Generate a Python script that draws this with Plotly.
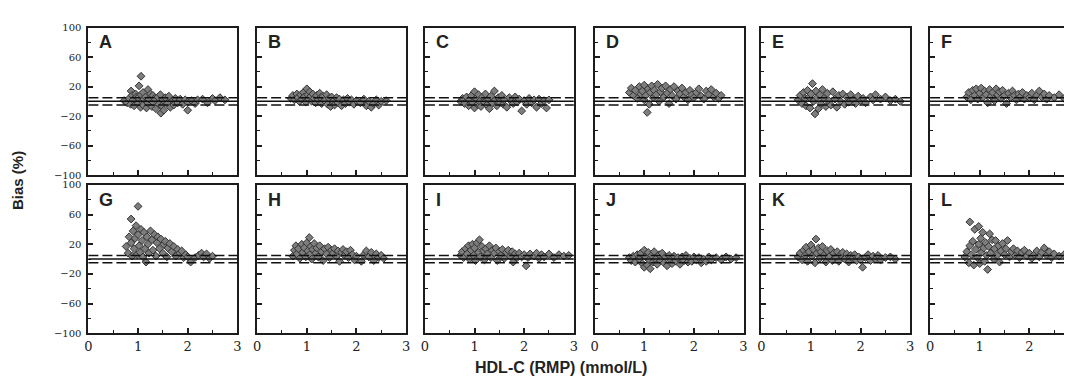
import plotly.graph_objects as go

# ---- data: (HDL-C by RMP [mmol/L], bias [%]) ----
A_PTS = [(0.72,1),(0.78,-2),(0.82,4),(0.85,-4),(0.86,14),(0.88,8),(0.9,2),(0.92,-6),(0.95,10),(0.97,6),(1.0,-3),(1.0,5),(1.02,21),(1.05,-8),(1.06,34),(1.06,9),(1.08,0),(1.1,12),(1.1,-5),(1.12,3),(1.15,6),(1.17,-9),(1.2,16),(1.2,-2),(1.22,3),(1.25,10),(1.28,-7),(1.3,8),(1.3,-1),(1.33,4),(1.36,-10),(1.4,6),(1.42,-4),(1.45,9),(1.46,-16),(1.48,-6),(1.5,2),(1.52,-12),(1.55,5),(1.6,-3),(1.62,7),(1.65,-8),(1.7,1),(1.72,-5),(1.75,4),(1.8,-2),(1.85,3),(1.9,-4),(1.95,2),(2.0,-1),(2.0,-12),(2.08,1),(2.15,-3),(2.2,2),(2.3,3),(2.4,-2),(2.5,4),(2.55,1),(2.65,5),(2.75,2)]
B_PTS = [(0.68,4),(0.72,8),(0.75,2),(0.8,10),(0.82,5),(0.85,0),(0.88,9),(0.9,3),(0.93,12),(0.95,6),(0.98,-1),(1.0,17),(1.02,9),(1.04,3),(1.06,13),(1.08,7),(1.1,0),(1.12,10),(1.15,4),(1.18,-2),(1.2,8),(1.23,2),(1.26,11),(1.28,5),(1.3,-3),(1.33,7),(1.36,1),(1.4,9),(1.42,-4),(1.45,4),(1.48,-7),(1.5,6),(1.53,0),(1.56,-5),(1.6,5),(1.63,-2),(1.66,3),(1.7,-6),(1.74,2),(1.78,-3),(1.82,4),(1.86,-1),(1.9,2),(1.95,-4),(2.0,1),(2.08,-2),(2.15,3),(2.2,-6),(2.25,0),(2.3,-8),(2.35,-3),(2.4,2),(2.45,-5),(2.5,0),(2.6,1)]
C_PTS = [(0.72,0),(0.76,4),(0.8,-3),(0.84,6),(0.88,-6),(0.9,2),(0.94,8),(0.96,-2),(1.0,13),(1.0,-9),(1.03,4),(1.06,-4),(1.08,9),(1.1,0),(1.13,-7),(1.16,6),(1.2,-1),(1.22,10),(1.25,-5),(1.28,3),(1.3,-10),(1.33,7),(1.36,-2),(1.4,14),(1.42,2),(1.45,-6),(1.48,5),(1.5,-1),(1.55,8),(1.58,-4),(1.6,2),(1.65,-8),(1.7,5),(1.74,0),(1.78,-3),(1.82,6),(1.86,-1),(1.9,3),(1.95,-13),(2.0,1),(2.05,-4),(2.1,4),(2.15,-2),(2.2,2),(2.25,-8),(2.3,3),(2.35,-3),(2.4,1),(2.45,-9),(2.5,2)]
D_PTS = [(0.7,12),(0.74,18),(0.78,8),(0.82,15),(0.86,4),(0.9,20),(0.93,10),(0.96,14),(1.0,2),(1.0,22),(1.03,8),(1.06,-15),(1.08,17),(1.1,-4),(1.12,12),(1.15,21),(1.18,5),(1.2,15),(1.24,9),(1.27,23),(1.3,0),(1.33,13),(1.36,18),(1.4,6),(1.43,21),(1.46,11),(1.5,-3),(1.53,16),(1.56,8),(1.6,20),(1.64,3),(1.68,14),(1.72,10),(1.76,18),(1.8,6),(1.84,12),(1.88,2),(1.92,15),(1.96,9),(2.0,5),(2.05,12),(2.1,17),(2.15,7),(2.2,3),(2.25,14),(2.3,9),(2.35,16),(2.4,6),(2.45,11),(2.5,4),(2.55,8)]
E_PTS = [(0.74,2),(0.78,8),(0.82,-3),(0.85,12),(0.88,4),(0.9,-6),(0.93,15),(0.96,6),(0.98,-9),(1.0,10),(1.03,24),(1.05,0),(1.08,-17),(1.1,14),(1.12,5),(1.15,-10),(1.18,9),(1.2,-3),(1.23,16),(1.26,4),(1.3,-7),(1.33,11),(1.36,1),(1.4,-5),(1.44,13),(1.48,3),(1.52,-8),(1.56,8),(1.6,0),(1.64,10),(1.68,-4),(1.72,6),(1.76,-1),(1.8,9),(1.85,2),(1.9,-3),(1.95,7),(2.0,1),(2.05,4),(2.1,-2),(2.2,6),(2.25,2),(2.3,9),(2.4,3),(2.5,6),(2.6,1),(2.7,3),(2.8,0)]
F_PTS = [(0.74,6),(0.78,12),(0.82,2),(0.86,15),(0.9,8),(0.93,17),(0.96,3),(1.0,11),(1.03,18),(1.06,5),(1.1,14),(1.13,9),(1.16,-2),(1.2,16),(1.23,7),(1.26,12),(1.3,1),(1.33,17),(1.36,9),(1.4,13),(1.43,4),(1.46,15),(1.5,8),(1.54,-3),(1.58,11),(1.62,5),(1.66,14),(1.7,8),(1.74,2),(1.78,10),(1.82,6),(1.86,12),(1.9,3),(1.95,8),(2.0,5),(2.05,11),(2.1,2),(2.15,8),(2.2,14),(2.25,6),(2.3,10),(2.35,3),(2.4,8),(2.5,5),(2.6,9),(2.7,4),(2.8,7),(2.9,5)]
G_PTS = [(0.76,17),(0.8,8),(0.82,30),(0.86,54),(0.86,22),(0.88,4),(0.9,38),(0.92,14),(0.94,28),(0.96,45),(0.98,6),(1.0,71),(1.0,33),(1.02,18),(1.04,9),(1.06,40),(1.08,25),(1.1,3),(1.12,36),(1.14,14),(1.16,-4),(1.18,30),(1.2,20),(1.22,8),(1.25,38),(1.28,26),(1.3,12),(1.33,33),(1.36,4),(1.38,22),(1.4,30),(1.43,14),(1.46,27),(1.5,8),(1.52,20),(1.55,24),(1.58,3),(1.6,15),(1.64,21),(1.68,10),(1.72,17),(1.76,4),(1.8,13),(1.84,8),(1.88,11),(1.92,2),(1.96,6),(2.0,3),(2.06,-4),(2.15,2),(2.22,5),(2.28,8),(2.32,3),(2.38,7),(2.44,1),(2.5,4)]
H_PTS = [(0.72,4),(0.75,12),(0.78,18),(0.8,7),(0.83,14),(0.86,1),(0.9,20),(0.92,9),(0.95,15),(0.98,3),(1.0,22),(1.02,11),(1.05,29),(1.06,6),(1.08,17),(1.1,0),(1.12,13),(1.15,21),(1.18,8),(1.2,15),(1.23,3),(1.26,18),(1.3,10),(1.33,-2),(1.36,14),(1.4,7),(1.43,16),(1.46,2),(1.5,12),(1.53,8),(1.56,14),(1.6,4),(1.63,11),(1.66,-3),(1.7,9),(1.73,13),(1.76,5),(1.8,10),(1.84,2),(1.88,12),(1.92,6),(1.96,-1),(2.0,4),(2.1,-3),(2.15,6),(2.2,11),(2.25,3),(2.3,9),(2.35,-2),(2.4,7),(2.45,2),(2.5,5),(2.55,1)]
I_PTS = [(0.72,5),(0.75,10),(0.78,2),(0.82,14),(0.85,7),(0.88,18),(0.9,0),(0.93,12),(0.96,20),(0.98,5),(1.0,15),(1.02,-2),(1.05,22),(1.08,9),(1.1,26),(1.12,3),(1.15,17),(1.18,11),(1.2,-1),(1.23,14),(1.26,7),(1.3,18),(1.33,2),(1.36,12),(1.4,8),(1.43,15),(1.46,-2),(1.5,10),(1.53,5),(1.56,13),(1.6,1),(1.64,9),(1.68,12),(1.72,4),(1.76,10),(1.78,-4),(1.82,7),(1.86,2),(1.9,8),(1.95,3),(2.0,6),(2.04,-9),(2.08,2),(2.12,7),(2.2,4),(2.25,8),(2.3,1),(2.35,6),(2.4,3),(2.5,7),(2.6,2),(2.7,6),(2.8,4),(2.9,5)]
J_PTS = [(0.7,2),(0.74,-2),(0.78,4),(0.82,-4),(0.86,6),(0.9,0),(0.93,8),(0.96,-6),(1.0,12),(1.0,-11),(1.03,3),(1.06,-8),(1.08,9),(1.1,-1),(1.12,-13),(1.15,5),(1.18,-4),(1.2,10),(1.23,0),(1.26,-7),(1.3,6),(1.33,-2),(1.36,8),(1.4,-5),(1.43,3),(1.46,-9),(1.5,5),(1.53,-1),(1.56,-6),(1.6,4),(1.64,-3),(1.68,2),(1.72,-7),(1.76,3),(1.8,-2),(1.84,5),(1.88,-4),(1.92,1),(1.96,-3),(2.0,3),(2.05,-1),(2.1,2),(2.15,-5),(2.2,0),(2.25,-3),(2.3,3),(2.35,-1),(2.45,2),(2.55,-1),(2.65,3),(2.75,0),(2.85,2)]
K_PTS = [(0.74,3),(0.78,8),(0.82,-1),(0.85,12),(0.88,5),(0.9,16),(0.93,-3),(0.96,10),(1.0,19),(1.02,4),(1.05,13),(1.08,-5),(1.1,27),(1.12,8),(1.15,15),(1.18,1),(1.2,10),(1.23,17),(1.26,5),(1.3,-4),(1.33,11),(1.36,3),(1.4,13),(1.43,-2),(1.46,8),(1.5,2),(1.53,10),(1.56,-3),(1.6,6),(1.64,9),(1.68,0),(1.72,7),(1.76,-4),(1.8,5),(1.84,1),(1.88,6),(1.92,-2),(1.96,3),(2.0,-1),(2.04,-11),(2.1,2),(2.15,6),(2.2,-2),(2.25,4),(2.3,0),(2.35,5),(2.4,-1),(2.5,2),(2.6,3),(2.7,0)]
L_PTS = [(0.7,3),(0.74,10),(0.78,-5),(0.8,50),(0.8,18),(0.83,6),(0.86,24),(0.88,-8),(0.9,40),(0.92,13),(0.95,2),(0.98,44),(0.98,20),(1.0,-6),(1.02,28),(1.04,9),(1.06,36),(1.08,15),(1.1,-3),(1.12,22),(1.14,5),(1.16,-14),(1.18,17),(1.2,34),(1.22,8),(1.25,26),(1.28,0),(1.3,14),(1.32,25),(1.35,5),(1.38,18),(1.4,-4),(1.43,11),(1.46,21),(1.5,6),(1.53,14),(1.56,25),(1.6,3),(1.64,10),(1.68,14),(1.72,5),(1.76,11),(1.8,2),(1.85,9),(1.9,12),(1.95,4),(2.0,8),(2.05,1),(2.1,6),(2.15,11),(2.2,3),(2.25,9),(2.3,15),(2.35,5),(2.4,10),(2.45,2),(2.5,7),(2.6,4),(2.7,6),(2.8,3),(2.9,5)]

PANEL_LABELS = ["A", "B", "C", "D", "E", "F", "G", "H", "I", "J", "K", "L"]
PANEL_POINTS = [A_PTS, B_PTS, C_PTS, D_PTS, E_PTS, F_PTS,
                G_PTS, H_PTS, I_PTS, J_PTS, K_PTS, L_PTS]

X_RANGE = [0, 3]
Y_RANGE = [-100, 100]
MEAN_BIAS = 0
BIAS_LIMITS = [-5, 5]
X_TITLE = "HDL-C (RMP) (mmol/L)"
Y_TITLE = "Bias (%)"

# ---- layout geometry (pixels) ----
W, H = 1072, 377
LEFTS = [77, 247, 416, 587, 755, 925]
PW = 150
ROW_Y = [(15, 167), (177, 330)]

AX_COLOR = "#1c1c1c"
X_TICK_FONT = dict(family="DejaVu Serif", size=13, color="#222")
Y_TICK_FONT = dict(family="DejaVu Serif", size=10, color="#222")

fig = go.Figure()
layout = dict(width=W, height=H, margin=dict(l=0, r=0, t=0, b=0),
              paper_bgcolor="white", plot_bgcolor="white", showlegend=False)
shapes, annotations = [], []

for i, (lab, pts) in enumerate(zip(PANEL_LABELS, PANEL_POINTS)):
    r, c = divmod(i, 6)
    n = i + 1
    sfx = "" if n == 1 else str(n)
    left = LEFTS[c]
    right = min(left + PW, W)
    xr_hi = X_RANGE[0] + (X_RANGE[1] - X_RANGE[0]) * (right - left) / PW
    top, bot = ROW_Y[r]

    fig.add_trace(go.Scatter(
        x=[p[0] for p in pts], y=[p[1] for p in pts],
        mode="markers", xaxis="x" + sfx, yaxis="y" + sfx,
        marker=dict(symbol="diamond", size=6, color="#7d7d7d",
                    line=dict(color="#333333", width=1)),
        hoverinfo="x+y"))

    layout["xaxis" + sfx] = dict(
        domain=[left / W, right / W], range=[X_RANGE[0], xr_hi],
        anchor="y" + sfx, showline=True, linewidth=2, linecolor=AX_COLOR,
        mirror=True, ticks="inside", ticklen=5, tickwidth=1.5, tickcolor=AX_COLOR,
        tick0=0, dtick=1, minor=dict(dtick=0.5, ticks="inside", ticklen=3,
                                     tickwidth=1.2, tickcolor=AX_COLOR),
        showgrid=False, zeroline=False, showticklabels=(r == 1),
        tickfont=X_TICK_FONT, ticklabelstandoff=0)
    layout["yaxis" + sfx] = dict(
        domain=[1 - bot / H, 1 - top / H], range=Y_RANGE,
        anchor="x" + sfx, showline=True, linewidth=2, linecolor=AX_COLOR,
        mirror=(c < 5), ticks="inside", ticklen=5, tickwidth=1.5, tickcolor=AX_COLOR,
        tick0=-100, dtick=40, minor=dict(dtick=20, ticks="inside", ticklen=3,
                                         tickwidth=1.2, tickcolor=AX_COLOR),
        showgrid=False, zeroline=False, showticklabels=(c == 0),
        tickfont=Y_TICK_FONT, ticklabelstandoff=3)

    xdom = "x" + sfx + " domain"
    shapes.append(dict(type="line", xref=xdom, yref="y" + sfx, x0=0, x1=1,
                       y0=MEAN_BIAS, y1=MEAN_BIAS, line=dict(color="#111", width=1.5)))
    for lim in BIAS_LIMITS:
        shapes.append(dict(type="line", xref=xdom, yref="y" + sfx, x0=0, x1=1,
                           y0=lim, y1=lim,
                           line=dict(color="#111", width=1.5, dash="10px,4px")))

    annotations.append(dict(text=lab, xref=xdom, yref="y" + sfx + " domain",
                            x=0.06, y=0.9, xanchor="left", yanchor="middle",
                            showarrow=False,
                            font=dict(family="Liberation Sans", size=18,
                                      color="#222", weight="bold")))

# shared y-axis title carried by an invisible full-height axis pair
layout["xaxis13"] = dict(domain=[0, 0.01], anchor="y13", visible=False)
layout["yaxis13"] = dict(
    domain=[1 - 330 / H, 1 - 15 / H], anchor="free", position=17 / W,
    range=Y_RANGE, showline=False, showticklabels=False, ticks="",
    showgrid=False, zeroline=False,
    title=dict(text=Y_TITLE, standoff=0,
               font=dict(family="Liberation Sans", size=15, color="#222",
                         weight="bold")))
fig.add_trace(go.Scatter(x=[None], y=[None], xaxis="x13", yaxis="y13",
                         mode="markers", hoverinfo="skip"))

annotations.append(dict(text=X_TITLE, xref="paper", yref="paper",
                        x=553 / W, y=1 - 365 / H, showarrow=False,
                        xanchor="center", yanchor="middle",
                        font=dict(family="Liberation Sans", size=16, color="#222",
                                  weight="bold")))

layout["shapes"] = shapes
layout["annotations"] = annotations
fig.update_layout(**layout)
fig.write_html("out.html")
